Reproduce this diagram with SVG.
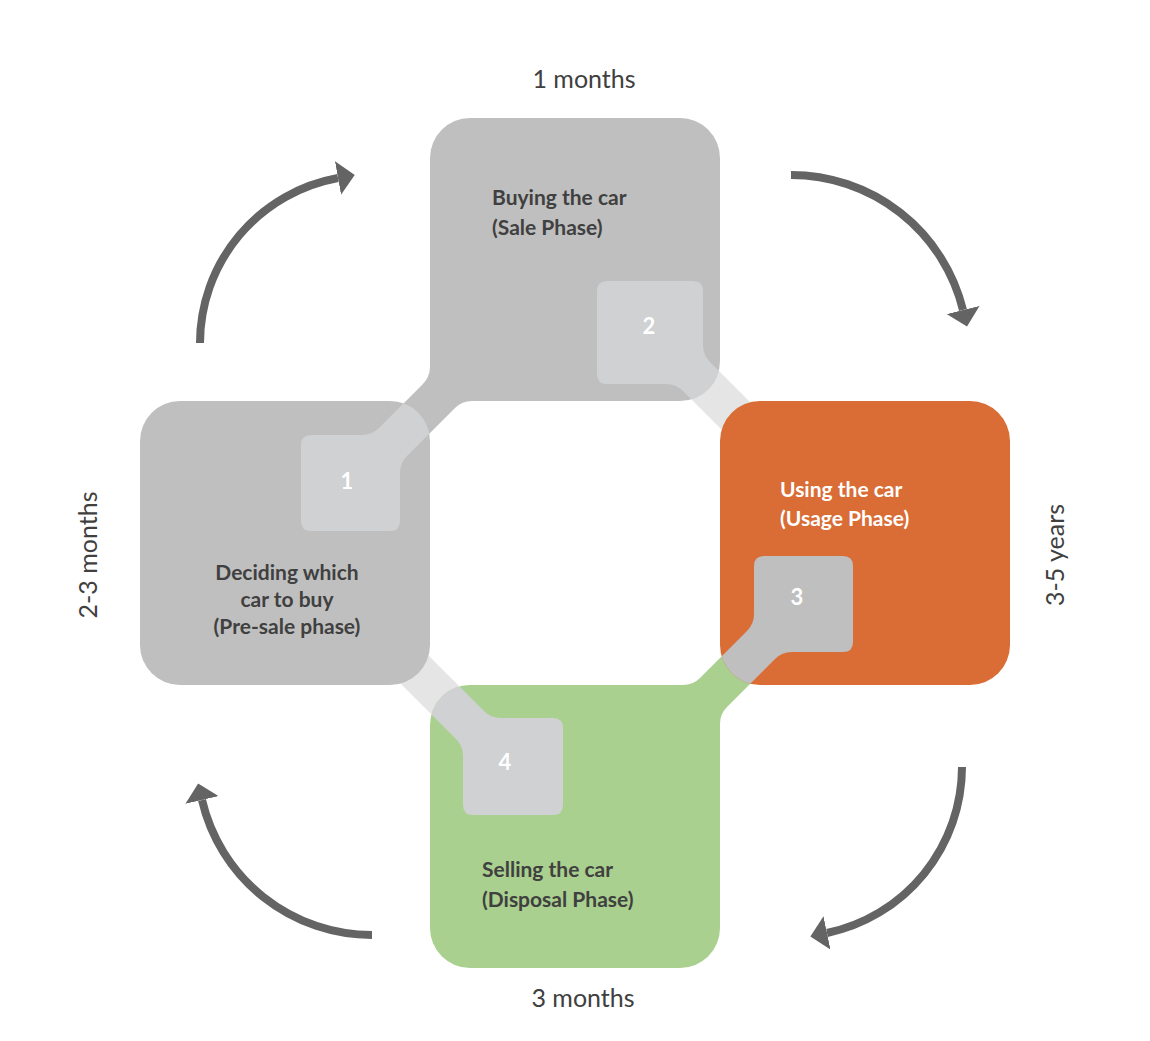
<svg xmlns="http://www.w3.org/2000/svg" width="1150" height="1041" viewBox="0 0 1150 1041">
<style>
.gray{fill:#bfbfbf}
.light{fill:#d0d1d3}
.pale{fill:#e5e5e5}
.orange{fill:#da6c35}
.green{fill:#a9d08e}
.lbl{font-family:Lato,"Open Sans","Liberation Sans",sans-serif;font-weight:bold;font-size:21px;fill:#404040}
.wlbl{font-family:Lato,"Open Sans","Liberation Sans",sans-serif;font-weight:bold;font-size:21px;fill:#ffffff}
.num{font-family:Lato,"Open Sans","Liberation Sans",sans-serif;font-weight:bold;font-size:22px;fill:#ffffff;text-anchor:middle}
.per{font-family:Lato,"Open Sans","Liberation Sans",sans-serif;font-size:25px;fill:#404040;text-anchor:middle}
.arr{fill:none;stroke:#646464;stroke-width:8}
</style>
<defs>
<marker id="ah" markerUnits="userSpaceOnUse" viewBox="0 0 18 34" markerWidth="18" markerHeight="34" refX="0" refY="17" orient="auto">
<path d="M0,0 L17,17 L0,34 Z" fill="#646464"/>
</marker>
<clipPath id="c1"><rect x="140" y="401" width="290" height="284" rx="40"/></clipPath>
<clipPath id="c2"><rect x="430" y="118" width="290" height="283" rx="40"/></clipPath>
<clipPath id="c3"><rect x="720" y="401" width="290" height="284" rx="40"/></clipPath>
<clipPath id="c4"><rect x="430" y="685" width="290" height="283" rx="40"/></clipPath>
</defs>
<g id="links">
<path class="pale" d="M607,281 L693,281 Q703,281 703,291 L703,345 Q703,355 710,362 L780,432 L752,460 L683,391 Q676,384 666,384 L607,384 Q597,384 597,374 L597,291 Q597,281 607,281 Z"/>
<path class="pale" d="M501,718 L553,718 Q563,718 563,728 L563,805 Q563,815 553,815 L473,815 Q463,815 463,805 L463,756 Q463,746 456,739 L390,673 L418,645 L484,711 Q491,718 501,718 Z"/>
<path class="gray" d="M380,427 L422,385 Q430,377 430,367 L430,350 L480,350 L480,401 L472,401 Q462,401 455,408 L420,443 Z"/>
<path class="green" d="M747,631 L700,678 Q693,685 683,685 L670,685 L670,740 L720,740 L720,724 Q720,714 727,707 L775,659 Z"/>
</g>
<g id="node1">
<rect class="gray" x="140" y="401" width="290" height="284" rx="40"/>
<path class="light" clip-path="url(#c1)" d="M311,435 L362,435 Q372,435 379,428 L440,367 L468,395 L407,456 Q400,463 400,473 L400,521 Q400,531 390,531 L311,531 Q301,531 301,521 L301,445 Q301,435 311,435 Z"/>
<text class="num" x="347" y="489">1</text>
<text class="lbl" text-anchor="middle"><tspan x="287" y="580">Deciding which</tspan><tspan x="287" y="607">car to buy</tspan><tspan x="287" y="634">(Pre-sale phase)</tspan></text>
</g>
<g id="node2">
<rect class="gray" x="430" y="118" width="290" height="283" rx="40"/>
<path class="light" clip-path="url(#c2)" d="M607,281 L693,281 Q703,281 703,291 L703,345 Q703,355 710,362 L780,432 L752,460 L683,391 Q676,384 666,384 L607,384 Q597,384 597,374 L597,291 Q597,281 607,281 Z"/>
<text class="num" x="649" y="334">2</text>
<text class="lbl"><tspan x="492" y="205">Buying the car</tspan><tspan x="492" y="235">(Sale Phase)</tspan></text>
</g>
<g id="node3">
<rect class="orange" x="720" y="401" width="290" height="284" rx="40"/>
<path class="gray" clip-path="url(#c3)" d="M764,556 L843,556 Q853,556 853,566 L853,642 Q853,652 843,652 L792,652 Q782,652 775,659 L710,724 L682,696 L747,631 Q754,624 754,614 L754,566 Q754,556 764,556 Z"/>
<text class="num" x="797" y="605">3</text>
<text class="wlbl"><tspan x="780" y="497">Using the car</tspan><tspan x="780" y="526">(Usage Phase)</tspan></text>
</g>
<g id="node4">
<rect class="green" x="430" y="685" width="290" height="283" rx="40"/>
<path class="light" clip-path="url(#c4)" d="M501,718 L553,718 Q563,718 563,728 L563,805 Q563,815 553,815 L473,815 Q463,815 463,805 L463,756 Q463,746 456,739 L390,673 L418,645 L484,711 Q491,718 501,718 Z"/>
<text class="num" x="505" y="770">4</text>
<text class="lbl"><tspan x="482" y="877">Selling the car</tspan><tspan x="482" y="907">(Disposal Phase)</tspan></text>
</g>
<g id="periods">
<text class="per" x="584" y="88">1 months</text>
<text class="per" x="583" y="1007">3 months</text>
<text class="per" transform="translate(97,555) rotate(-90)" x="0" y="0">2-3 months</text>
<text class="per" transform="translate(1064,555) rotate(-90)" x="0" y="0">3-5 years</text>
</g>
<g id="arrows">
<path class="arr" marker-end="url(#ah)" d="M200,343 A168,168 0 0 1 338,178"/>
<path class="arr" marker-end="url(#ah)" d="M791,175 A177,177 0 0 1 963,310"/>
<path class="arr" marker-end="url(#ah)" d="M962,767 A170,170 0 0 1 827,933"/>
<path class="arr" marker-end="url(#ah)" d="M372,935 A174.5,174.5 0 0 1 202,800"/>
</g>
</svg>
